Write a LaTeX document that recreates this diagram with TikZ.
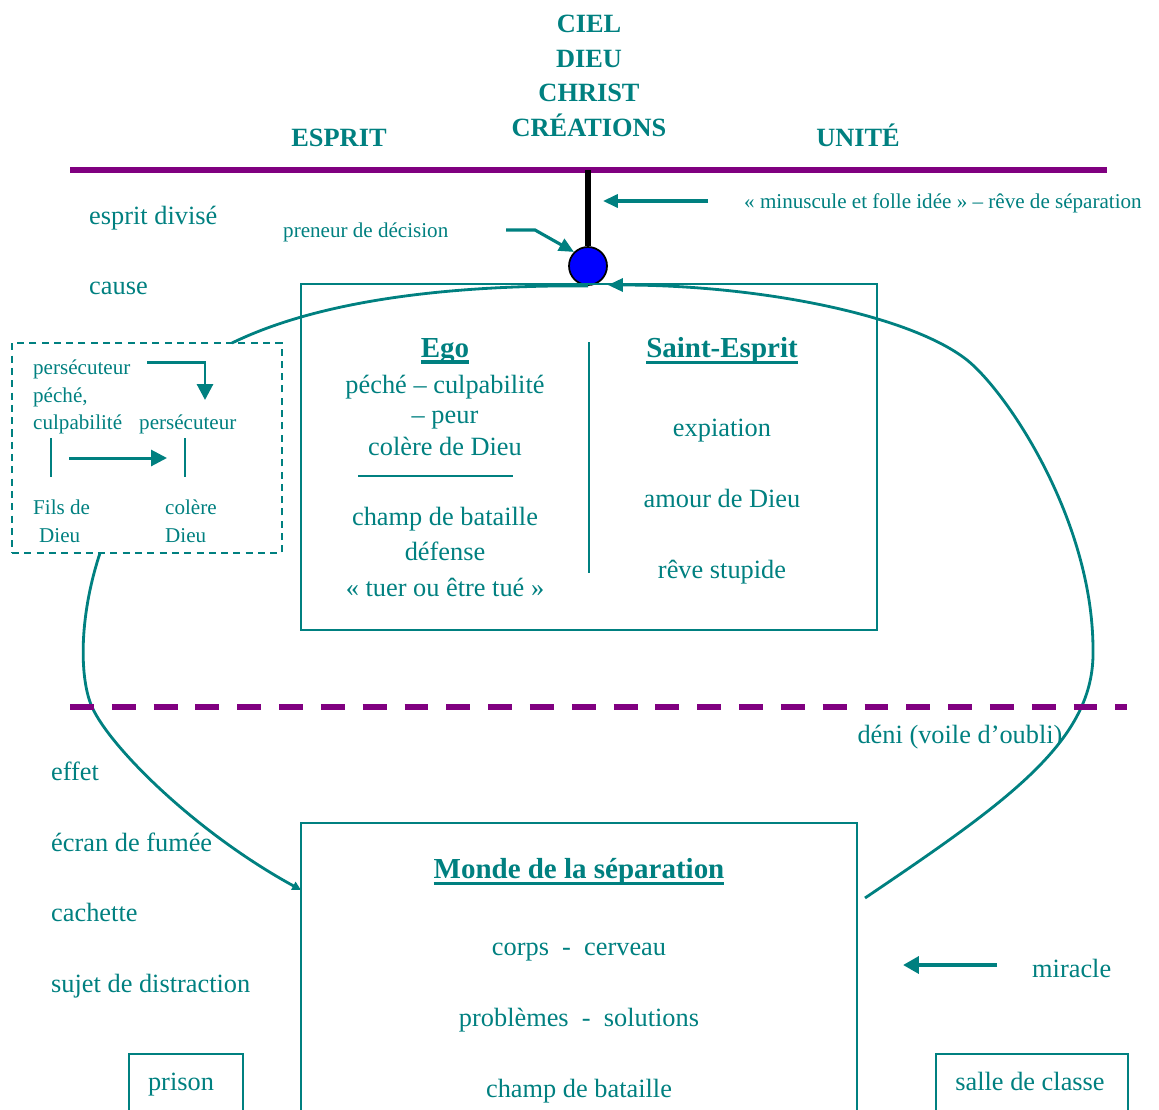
\documentclass[tikz,border=0pt]{standalone}
\usepackage{fontspec}
\setmainfont{Liberation Serif}
\usetikzlibrary{arrows.meta}
\definecolor{sarcelle}{RGB}{0,128,128}
\definecolor{prune}{RGB}{128,0,128}
\newcommand{\souligne}[1]{\setbox0\hbox{#1}\rlap{\rule[-3.6pt]{\wd0}{1.9pt}}\box0}
\tikzset{
  boite/.style={draw=sarcelle, line width=1.1pt},
  petit/.style={font=\fontsize{12}{14}\selectfont},
  gras/.style={font=\bfseries\fontsize{15}{18}\selectfont},
  titre/.style={font=\bfseries\fontsize{16.5}{20}\selectfont},
  fleche/.style={->, draw=sarcelle, line width=1.8pt},
  trait/.style={draw=sarcelle, line width=1.1pt},
  courbe/.style={draw=sarcelle, line width=1.6pt},
}
\begin{document}
\begin{tikzpicture}[x=0.02cm,y=-0.02cm,>={Triangle[length=8.5pt,width=7.5pt]},font=\fontsize{15}{18}\selectfont,text=sarcelle]
				\useasboundingbox (0,0) rectangle (1159,1109);
				\clip (0,0) rectangle (1159,1109);
				% ciel
				\node[align=center,font=\bfseries\fontsize{15}{19.8}\selectfont] (ciel) at (589,76) {CIEL\\DIEU\\CHRIST\\CRÉATIONS};
				\node[gras] (esprit) at (339,138) {ESPRIT};
				\node[gras] (unite) at (858,135) {UNITÉ};
				\draw[prune,line width=3pt] (70,170) -- (1107,170);
				% preneur de decision
				\node[circle,draw=black,fill=blue,line width=1pt,minimum size=0.76cm,inner sep=0pt] (dm) at (588,266) {};
				\coordinate (pont) at (588,170);
				\draw[black,line width=3.4pt] (pont) -- (dm.north);
				\node[petit,anchor=west] (idee) at (738,203) {«~minuscule et folle idée~» – rêve de séparation};
				\coordinate (idee0) at (708,201);
				\coordinate (idee1) at (603,201);
				\draw[fleche] (idee0) -- (idee1);
				\node[petit,anchor=west] (preneur) at (277,232) {preneur de décision};
				\coordinate (pr0) at (506,230);
				\draw[fleche] (pr0) -- (535,230) -- (dm.north west);
				\node[anchor=west] (divise) at (83,218) {esprit divisé};
				\node[anchor=west] (cause) at (83,288) {cause};
				% ego et saint-esprit
				\node[boite,minimum width=11.52cm,minimum height=6.92cm] (ego) at (589,457) {};
				\draw[trait] (589,342) -- (589,573);
				\node[titre] (egot) at (445,351) {\souligne{Ego}};
				\node (peche) at (445,387) {péché – culpabilité};
				\node (peur) at (445,420) {– peur};
				\node (colere) at (445,446) {colère de Dieu};
				\draw[trait] (358,476) -- (513,476);
				\node (champ) at (445,519) {champ de bataille};
				\node (defense) at (445,551) {défense};
				\node (tuer) at (445,587) {«~tuer ou être tué~»};
				\node[titre] (sainte) at (722,351) {\souligne{Saint-Esprit}};
				\node (expiation) at (722,431) {expiation};
				\node (amour) at (722,498) {amour de Dieu};
				\node (reve) at (722,572) {rêve stupide};
				% cycle persecuteur
				\node[boite,dashed,dash pattern=on 4pt off 3pt,minimum width=5.4cm,minimum height=4.2cm] (cycle) at (147,448) {};
				\node[petit,anchor=west] (pers1) at (27,369) {persécuteur};
				\node[petit,anchor=west] (pech) at (27,397) {péché,};
				\node[petit,anchor=west] (culpa) at (27,424) {culpabilité};
				\node[petit,anchor=west] (pers2) at (133,424) {persécuteur};
				\coordinate (c1) at (147,362);
				\coordinate (c2) at (205,400);
				\draw[fleche,line width=1.7pt,>={Triangle[length=9pt,width=9pt]}] (c1) -| (c2);
				\draw[trait] (51,438) -- (51,477);
				\draw[trait] (185,438) -- (185,477);
				\coordinate (c3) at (69,458);
				\coordinate (c4) at (167,458);
				\draw[fleche,line width=1.7pt,>={Triangle[length=9pt,width=9pt]}] (c3) -- (c4);
				\node[petit,anchor=west] (fils) at (27,507) {Fils de};
				\node[petit,anchor=west] (dieu1) at (33,536) {Dieu};
				\node[petit,anchor=west] (col) at (159,507) {colère};
				\node[petit,anchor=west] (dieu2) at (159,536) {Dieu};
				% boucle
				\coordinate (g1) at (232,343);
				\coordinate (g2) at (100,553);
				\coordinate (g3) at (92,707);
				\coordinate (m1) at (301,890);
				\draw[courbe] (dm.south) .. controls (450,285) and (320,300) .. (g1);
				\draw[courbe,->,>={Triangle[length=5pt,width=5pt]}] (g2) .. controls (78,620) and (80,680) .. (g3) .. controls (110,747) and (195,832) .. (m1);
				\coordinate (d0) at (865,898);
				\coordinate (d1) at (1093,650);
				\coordinate (d2) at (967,360);
				\coordinate (d3) at (608,285);
				\draw[courbe,->] (d0) .. controls (1010,800) and (1095,740) .. (d1) .. controls (1093,520) and (1007,392) .. (d2) .. controls (910,315) and (760,285) .. (d3);
				% voile
				\draw[prune,line width=3pt,dash pattern=on 13.6pt off 10.2pt] (70,707) -- (1127,707);
				\node (deni) at (960,737) {déni (voile d’oubli)};
				\node[anchor=west] (effet) at (45,771) {effet};
				\node[anchor=west] (ecran) at (45,842) {écran de fumée};
				\node[anchor=west] (cachette) at (45,912) {cachette};
				\node[anchor=west] (sujet) at (45,986) {sujet de distraction};
				% monde
				\node[boite,minimum width=11.12cm,minimum height=6.14cm] (monde) at (579,976.5) {};
				\node[titre] (mondet) at (579,872) {\souligne{Monde de la séparation}};
				\node (corps) at (579,952) {corps~~-~~cerveau};
				\node (problemes) at (579,1020) {problèmes~~-~~solutions};
				\node (champ2) at (579,1091) {champ de bataille};
				\coordinate (mi0) at (997,965);
				\coordinate (mi1) at (903,965);
				\draw[fleche,line width=2.3pt,>={Triangle[length=9pt,width=9.5pt]}] (mi0) -- (mi1);
				\node[anchor=west] (miracle) at (1026,968) {miracle};
				\node[boite,anchor=north west,minimum width=2.28cm,minimum height=1.6cm] (prisonb) at (128,1053) {};
				\node (prison) at (181,1085) {prison};
				\node[boite,anchor=north west,minimum width=3.84cm,minimum height=1.6cm] (salleb) at (935,1053) {};
				\node (salle) at (1030,1081) {salle de classe};
		\end{tikzpicture}
\end{document}
